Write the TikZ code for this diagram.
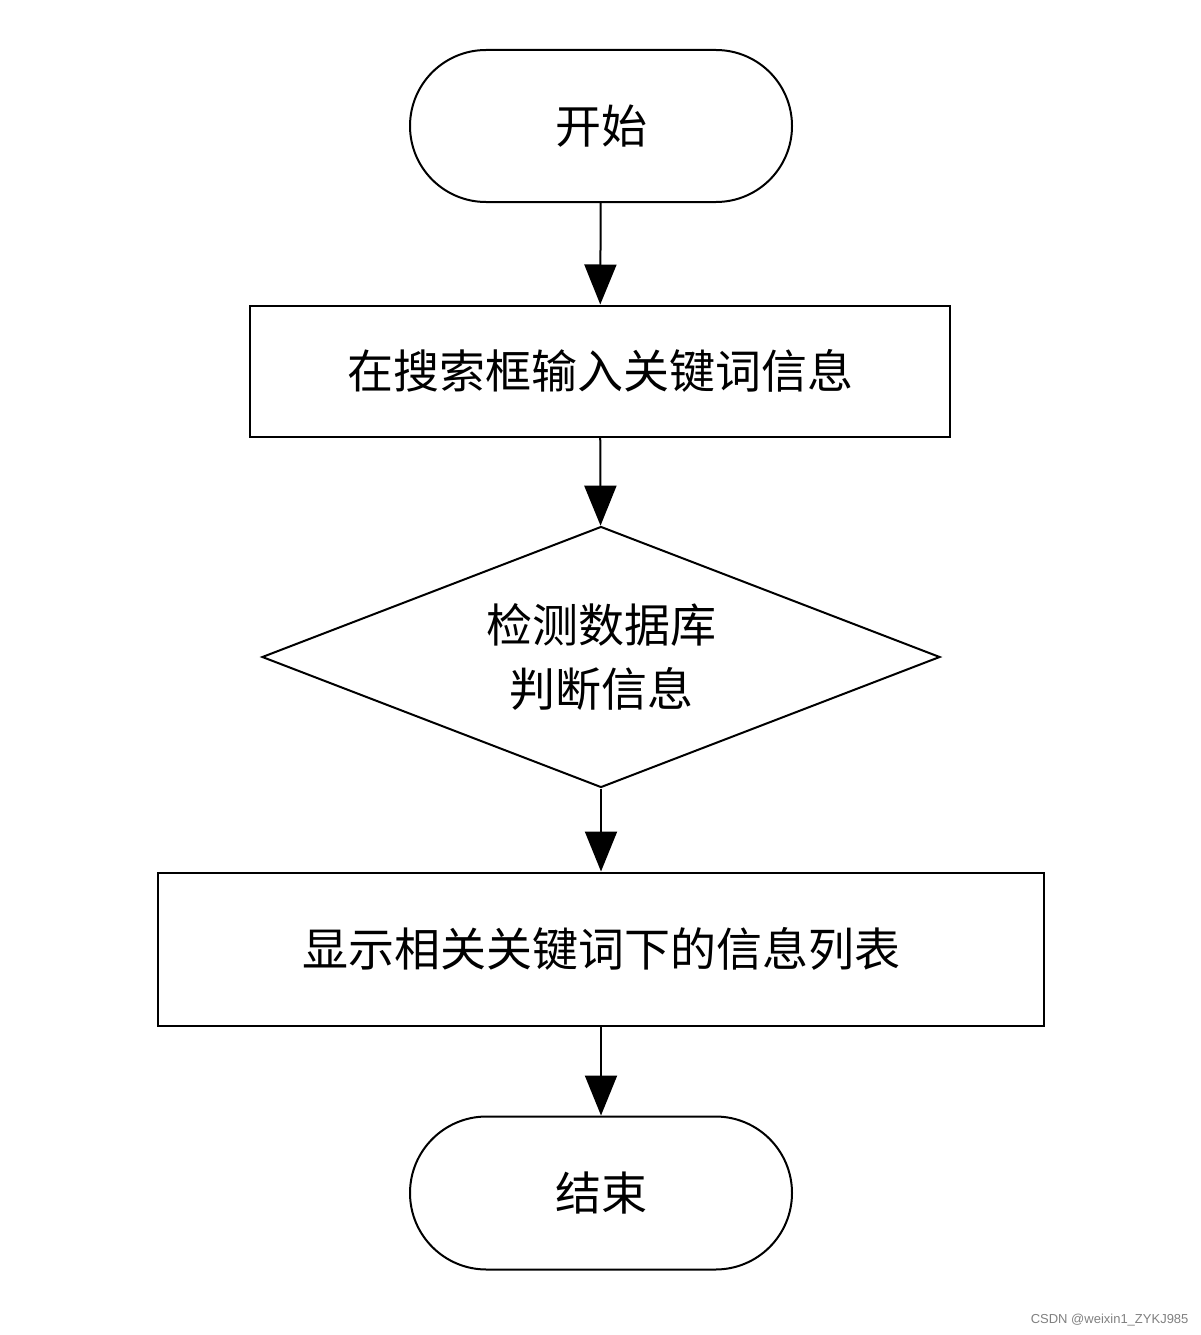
\documentclass[tikz,border=0pt]{standalone}
\usepackage{fontspec}
\setmainfont{Liberation Sans}
\newfontfamily\cjk{Noto Sans CJK SC}
\usetikzlibrary{shapes.geometric,shapes.misc,arrows.meta}
\begin{document}
\begin{tikzpicture}[x=1pt,y=-1pt,
  base/.style={draw,line width=2pt,font=\cjk\fontsize{46}{64}\selectfont,align=center,inner sep=0pt},
  term/.style={base,rounded rectangle,minimum width=382pt,minimum height=152pt},
  proc/.style={base,rectangle,minimum height=131pt},
  dec/.style={base,diamond,aspect=2.6,minimum width=678pt,minimum height=261pt},
  arr/.style={line width=2pt,-{Triangle[length=40pt,width=32pt]}}]
\useasboundingbox (0,0) rectangle (1200,1335);
\node[term] (s) at (601,126) {开始};
\node[proc,minimum width=700pt] (b1) at (600,371) {在搜索框输入关键词信息};
\node[dec] (d) at (601,657) {检测数据库\\判断信息};
\node[proc,minimum width=886pt,minimum height=153pt] (b2) at (601,949) {显示相关关键词下的信息列表};
\node[term,minimum height=153pt] (e) at (601,1193) {结束};
\draw[arr] (s) -- (b1);
\draw[arr] (b1) -- (d);
\draw[arr] (d) -- (b2);
\draw[arr] (b2) -- (e);
\node[anchor=east,text=gray,font=\fontsize{13}{15}\selectfont] (w) at (1192,1320) {CSDN @weixin1\_ZYKJ985};
\end{tikzpicture}
\end{document}
